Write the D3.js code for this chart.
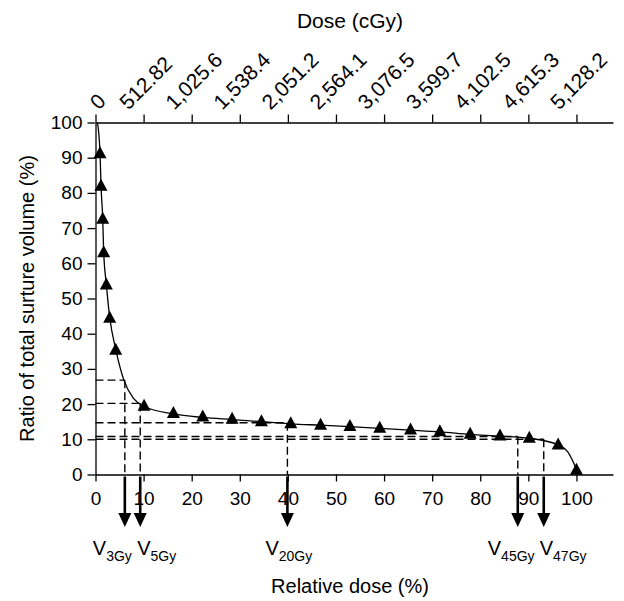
<!DOCTYPE html>
<html>
<head>
<meta charset="utf-8">
<script src="https://cdn.jsdelivr.net/npm/d3@7/dist/d3.min.js"></script>
<style>
  html, body { margin: 0; padding: 0; background: #fff; }
  svg text { font-family: Arial, "Liberation Sans", sans-serif; fill: #000; }
</style>
</head>
<body>
<div id="chart"></div>
<script>
// --- data ---
const relTicks = [0, 10, 20, 30, 40, 50, 60, 70, 80, 90, 100];
const doseLabels = ["0", "512.82", "1,025.6", "1,538.4", "2,051.2", "2,564.1",
  "3,076.5", "3,599.7", "4,102.5", "4,615.3", "5,128.2"];
const volTicks = [0, 10, 20, 30, 40, 50, 60, 70, 80, 90, 100];

// triangle markers
const markX = [0.94, 1.14, 1.5, 1.7, 2.25, 2.95, 4.2, 10.1, 16.2, 22.3, 28.4, 34.5,
  40.6, 46.8, 52.9, 59.1, 65.5, 71.6, 77.9, 84.1, 90.2, 96.2, 100];
const markY = [91.4, 82.2, 72.8, 63.3, 54.1, 44.7, 35.6, 19.7, 17.6, 16.6, 16.0, 15.3,
  14.7, 14.3, 13.9, 13.4, 12.9, 12.4, 11.7, 11.2, 10.6, 8.7, 1.5];

// curve through the markers (plus a few unmarked points)
const curveX = [0.4, 0.94, 1.14, 1.5, 1.7, 2.25, 2.95, 4.2, 5.9, 7.9, 10.1, 16.2, 22.3,
  28.4, 34.5, 40.6, 46.8, 52.9, 59.1, 65.5, 71.6, 77.9, 84.1, 90.2, 96.2, 98.2, 100];
const curveY = [100, 91.4, 82.2, 72.8, 63.3, 54.1, 44.7, 35.6, 26.8, 21.6, 19.4, 17.2, 16.2,
  15.6, 15.0, 14.4, 14.0, 13.6, 13.1, 12.6, 12.1, 11.4, 10.9, 10.3, 8.4, 6.4, 1.5];

// V_xGy reference lines
const refNames = ["3Gy", "5Gy", "20Gy", "45Gy", "47Gy"];
const refX = [6.1, 9.3, 39.9, 87.8, 93.2];
const refY = [26.8, 20.2, 14.7, 10.8, 10.0];

const W = 624, H = 601;
const svg = d3.select("#chart").append("svg")
  .attr("width", W).attr("height", H);

const x = d3.scaleLinear().domain([0, 107.6]).range([95.5, 613]);
const y = d3.scaleLinear().domain([0, 100]).range([474.5, 122.5]);

const fs = 19;

// --- axes ---
const axBottom = svg.append("g").attr("transform", `translate(0,${y(0)})`)
  .call(d3.axisBottom(x).tickValues(relTicks).tickSize(7).tickSizeOuter(0).tickPadding(10));
const axTop = svg.append("g").attr("transform", `translate(0,${y(100)})`)
  .call(d3.axisTop(x).tickValues(relTicks).tickSize(8).tickSizeOuter(0).tickFormat(""));
const axLeft = svg.append("g").attr("transform", `translate(${x(0)},0)`)
  .call(d3.axisLeft(y).tickValues(volTicks).tickSize(8).tickSizeOuter(0).tickPadding(5));

[axBottom, axTop, axLeft].forEach(g => {
  g.select(".domain").attr("stroke", "#000").attr("stroke-width", 1.3);
  g.selectAll(".tick line").attr("stroke", "#000").attr("stroke-width", 1.3);
  g.selectAll(".tick text").style("font-size", fs + "px")
    .style("font-family", "Arial, 'Liberation Sans', sans-serif").attr("fill", "#000");
});

// rotated dose labels: bbox centred on tick, bottom at fixed height
const topFs = 21;
relTicks.forEach((v, i) => {
  const t = svg.append("text")
    .style("font-size", topFs + "px")
    .attr("text-anchor", "middle")
    .attr("dominant-baseline", "central")
    .text(doseLabels[i]);
  const len = t.node().getComputedTextLength();
  const half = 0.7071 * (len + topFs * 0.75) / 2;
  const cx = x(v) + 2, cy = 111 - half;
  t.attr("x", cx).attr("y", cy).attr("transform", `rotate(-45,${cx},${cy})`);
});

// --- titles ---
svg.append("text").attr("x", 350).attr("y", 28).attr("text-anchor", "middle")
  .style("font-size", "21px").text("Dose (cGy)");
svg.append("text").attr("x", 350).attr("y", 593).attr("text-anchor", "middle")
  .style("font-size", "20px").text("Relative dose (%)");
svg.append("text").attr("transform", `translate(34,${(y(0) + y(100)) / 2}) rotate(-90)`)
  .attr("text-anchor", "middle").style("font-size", "20px")
  .text("Ratio of total surture volume (%)");

// --- dashed reference lines ---
const refs = svg.append("g").attr("fill", "none").attr("stroke", "#000")
  .attr("stroke-width", 1.4).attr("stroke-dasharray", "8,4");
refX.forEach((rx, i) => {
  refs.append("line").attr("x1", x(0)).attr("x2", x(rx))
    .attr("y1", y(refY[i])).attr("y2", y(refY[i]));
  refs.append("line").attr("x1", x(rx)).attr("x2", x(rx))
    .attr("y1", y(refY[i])).attr("y2", y(0));
});

// --- curve ---
const pts = curveX.map((d, i) => [d, curveY[i]]);
svg.append("path").datum(pts)
  .attr("fill", "none").attr("stroke", "#000").attr("stroke-width", 1.3)
  .attr("d", d3.line().x(d => x(d[0])).y(d => y(d[1])).curve(d3.curveMonotoneX));

// --- triangle markers ---
svg.append("g").selectAll("path")
  .data(markX.map((d, i) => [d, markY[i]]))
  .join("path")
  .attr("transform", d => `translate(${x(d[0])},${y(d[1])})`)
  .attr("d", "M0,-6.5L6.5,5.5L-6.5,5.5Z")
  .attr("fill", "#000");

// --- arrows and V labels ---
const labelDx = [-32, -3, -22, -30, -4];
refX.forEach((rx, i) => {
  const ax = x(rx);
  svg.append("line").attr("x1", ax).attr("x2", ax).attr("y1", y(0) + 2).attr("y2", 514)
    .attr("stroke", "#000").attr("stroke-width", 2.6);
  svg.append("path").attr("d", `M${ax - 6.5},513L${ax + 6.5},513L${ax},527Z`).attr("fill", "#000");
  const t = svg.append("text").attr("x", ax + labelDx[i]).attr("y", 555)
    .style("font-size", "20px");
  t.append("tspan").text("V");
  t.append("tspan").attr("dy", 6).style("font-size", "14px").text(refNames[i]);
});
</script>
</body>
</html>
